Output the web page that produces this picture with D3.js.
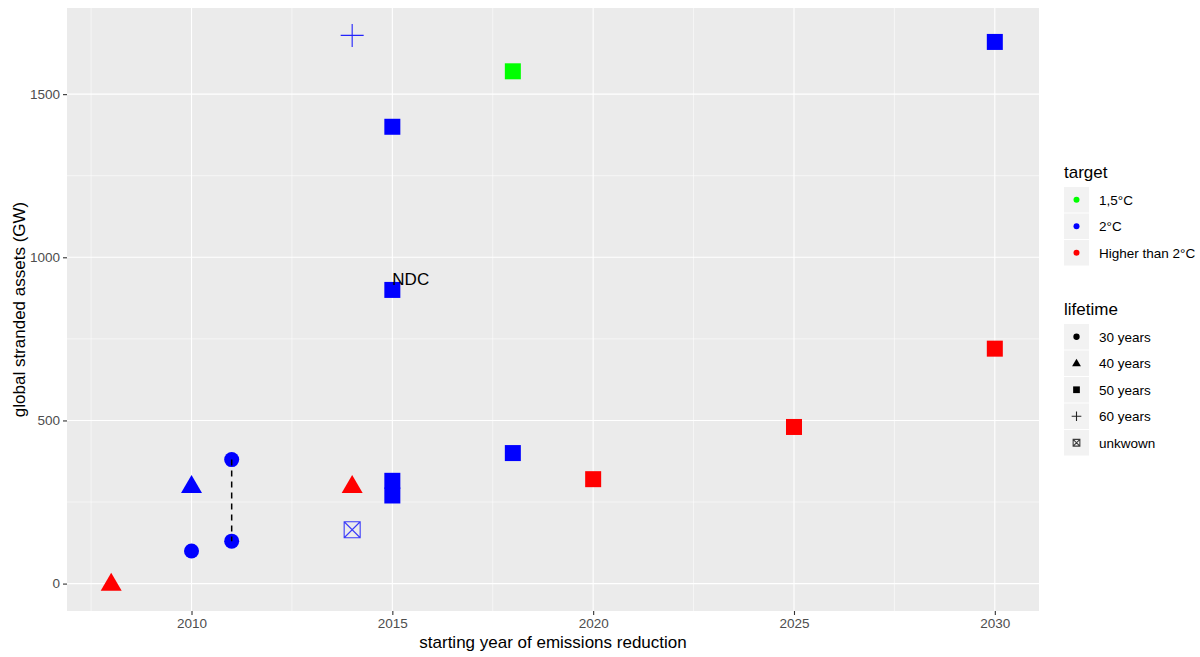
<!DOCTYPE html>
<html><head><meta charset="utf-8">
<script src="https://cdn.jsdelivr.net/npm/d3@7"></script>
<style>body{margin:0;background:#fff;} text{font-family:"Liberation Sans",Arial,sans-serif;}</style>
</head><body><svg id="c" width="1200" height="657"></svg>
<script>
const years     = [2008, 2010, 2010, 2011, 2011, 2014, 2014, 2014, 2015, 2015, 2015, 2015, 2018, 2018, 2020, 2025, 2030, 2030];
const values    = [0, 300, 100, 380, 130, 300, 165, 1680, 1400, 900, 315, 270, 1570, 400, 320, 480, 720, 1660];
const targets   = ["Higher than 2°C","2°C","2°C","2°C","2°C","Higher than 2°C","2°C","2°C","2°C","2°C","2°C","2°C","1,5°C","2°C","Higher than 2°C","Higher than 2°C","Higher than 2°C","2°C"];
const lifetimes = ["40 years","40 years","30 years","30 years","30 years","40 years","unkwown","60 years","50 years","50 years","50 years","50 years","50 years","50 years","50 years","50 years","50 years","50 years"];
const targetLevels   = ["1,5°C","2°C","Higher than 2°C"];
const targetColors   = ["#00FF00","#0000FF","#FF0000"];
const lifetimeLevels = ["30 years","40 years","50 years","60 years","unkwown"];
const xTicks = [2010, 2015, 2020, 2025, 2030];
const yTicks = [0, 500, 1000, 1500];
const xMinor = [2007.5, 2012.5, 2017.5, 2022.5, 2027.5];
const yMinor = [250, 750, 1250];
const segment = {year: 2011, from: 380, to: 130};
const label = {year: 2015, value: 900, text: "NDC"};

const svg = d3.select("#c");
const L = 67, R = 1039, T = 8, B = 611;
const x = d3.scaleLinear().domain([2006.9, 2031.1]).range([L, R]);
const y = d3.scaleLinear().domain([-84, 1764]).range([B, T]);
const color = d3.scaleOrdinal().domain(targetLevels).range(targetColors);

svg.append("rect").attr("x", L).attr("y", T).attr("width", R-L).attr("height", B-T).attr("fill", "#EBEBEB");
const g = svg.append("g");
xMinor.forEach(v => g.append("line").attr("x1", x(v)).attr("x2", x(v)).attr("y1", T).attr("y2", B).attr("stroke", "#fff").attr("stroke-width", 0.55));
yMinor.forEach(v => g.append("line").attr("y1", y(v)).attr("y2", y(v)).attr("x1", L).attr("x2", R).attr("stroke", "#fff").attr("stroke-width", 0.55));
xTicks.forEach(v => g.append("line").attr("x1", x(v)).attr("x2", x(v)).attr("y1", T).attr("y2", B).attr("stroke", "#fff").attr("stroke-width", 1.1));
yTicks.forEach(v => g.append("line").attr("y1", y(v)).attr("y2", y(v)).attr("x1", L).attr("x2", R).attr("stroke", "#fff").attr("stroke-width", 1.1));

// axes
const xa = svg.append("g").attr("transform", `translate(0,${B})`).call(d3.axisBottom(x).tickValues(xTicks).tickFormat(d3.format("d")).tickSize(4).tickPadding(3));
const ya = svg.append("g").attr("transform", `translate(${L},0)`).call(d3.axisLeft(y).tickValues(yTicks).tickFormat(d3.format("d")).tickSize(4).tickPadding(3));
[xa, ya].forEach(a => {
  a.select(".domain").remove();
  a.selectAll(".tick line").attr("stroke", "#333").attr("stroke-width", 1.1);
  a.selectAll(".tick text").attr("fill", "#4D4D4D").style("font-size", "13.5px");
});

svg.append("text").attr("x", (L+R)/2).attr("y", 648).attr("text-anchor", "middle").style("font-size", "17px").attr("fill", "#000").text("starting year of emissions reduction");
svg.append("text").attr("transform", `translate(25,${(T+B)/2}) rotate(-90)`).attr("text-anchor", "middle").style("font-size", "17px").attr("fill", "#000").text("global stranded assets (GW)");

// shape drawing
function drawShape(sel, shape, cx, cy, fill, scale) {
  const s = scale;
  if (shape === "30 years") {
    sel.append("circle").attr("cx", cx).attr("cy", cy).attr("r", 7.5*s).attr("fill", fill);
  } else if (shape === "40 years") {
    const w = 10.5*s, h = 18*s;
    sel.append("path").attr("d", `M${cx},${cy-h*0.6}L${cx+w},${cy+h*0.4}L${cx-w},${cy+h*0.4}Z`).attr("fill", fill);
  } else if (shape === "50 years") {
    const h = 8*s;
    sel.append("rect").attr("x", cx-h).attr("y", cy-h).attr("width", 2*h).attr("height", 2*h).attr("fill", fill);
  } else if (shape === "60 years") {
    const h = 11.5*s;
    sel.append("path").attr("d", `M${cx-h},${cy}H${cx+h}M${cx},${cy-h}V${cy+h}`).attr("stroke", fill).attr("stroke-width", 1.1).attr("fill", "none").attr("opacity", 0.85);
  } else {
    const h = 8*s;
    sel.append("path").attr("d", `M${cx-h},${cy-h}H${cx+h}V${cy+h}H${cx-h}ZM${cx-h},${cy-h}L${cx+h},${cy+h}M${cx+h},${cy-h}L${cx-h},${cy+h}`).attr("stroke", fill).attr("stroke-width", 1.1).attr("fill", "none").attr("opacity", 0.75);
  }
}

const pts = svg.append("g");
years.forEach((yr, i) => drawShape(pts, lifetimes[i], x(yr), y(values[i]), color(targets[i]), 1));

svg.append("line").attr("x1", x(segment.year)).attr("x2", x(segment.year)).attr("y1", y(segment.from)).attr("y2", y(segment.to))
  .attr("stroke", "#000").attr("stroke-width", 1.5).attr("stroke-dasharray", "6,5");

svg.append("text").attr("x", x(label.year)).attr("y", y(label.value)-5).style("font-size", "17px").attr("fill", "#000").text(label.text);

// legends
const lg = svg.append("g");
const keyX = 1064, keyW = 25, keyH = 25.5;
lg.append("text").attr("x", keyX).attr("y", 178).style("font-size", "17px").text("target");
targetLevels.forEach((t, i) => {
  const ky = 187 + i*(keyH+1);
  lg.append("rect").attr("x", keyX).attr("y", ky).attr("width", keyW).attr("height", keyH).attr("fill", "#F2F2F2");
  lg.append("circle").attr("cx", keyX+keyW/2).attr("cy", ky+keyH/2).attr("r", 3).attr("fill", targetColors[i]);
  lg.append("text").attr("x", 1099).attr("y", ky+keyH/2+4.8).style("font-size", "13.5px").attr("fill", "#000").text(t);
});
lg.append("text").attr("x", keyX).attr("y", 315).style("font-size", "17px").text("lifetime");
lifetimeLevels.forEach((t, i) => {
  const ky = 324 + i*(keyH+1);
  lg.append("rect").attr("x", keyX).attr("y", ky).attr("width", keyW).attr("height", keyH).attr("fill", "#F2F2F2");
  drawShape(lg, t, keyX+keyW/2, ky+keyH/2, "#000", 0.42);
  lg.append("text").attr("x", 1099).attr("y", ky+keyH/2+4.8).style("font-size", "13.5px").attr("fill", "#000").text(t);
});
</script></body></html>
